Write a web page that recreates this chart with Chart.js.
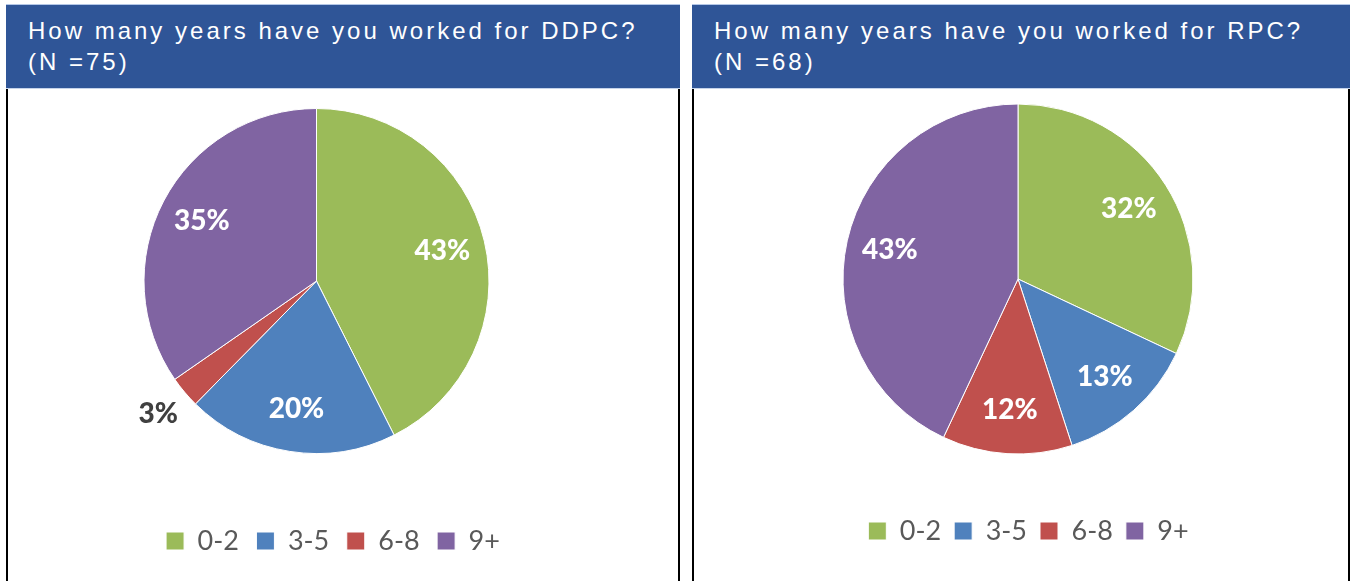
<!DOCTYPE html>
<html>
<head>
<meta charset="utf-8">
<script src="https://cdn.jsdelivr.net/npm/chart.js@4/dist/chart.umd.min.js"></script>
<style>
  html, body { margin: 0; padding: 0; background: #fff; }
  body { width: 1350px; height: 581px; position: relative; overflow: hidden; }
  .panel { position: absolute; top: 4px; height: 577px; background: #fff; }
  .header {
    position: absolute; left: 0; top: 0; right: 0; height: 85px;
    background: #2F5597; border-top: 1px solid #b4c7e7; box-sizing: border-box;
    border-bottom: 1px solid #c5d3ea;
    color: #fff; font-family: "Liberation Sans", Arial, sans-serif; font-size: 24px;
    letter-spacing: 3px; line-height: 30.5px; padding: 11px 0 0 22px; z-index: 2;
  }
  .lb { position: absolute; top: 85px; bottom: 0; width: 2px; background: #000; z-index: 2; }
  canvas { position: absolute; top: 0; z-index: 1; }
</style>
</head>
<body>
<div class="panel" id="p1" style="left:6px; width:674px;">
  <div class="header">How many years have you worked for DDPC?<br>(N =75)</div>
  <div class="lb" style="left:0"></div>
  <div class="lb" style="left:672px"></div>
  <canvas id="c1" width="670" height="577" style="left:2px"></canvas>
</div>
<div class="panel" id="p2" style="left:692px; width:658px;">
  <div class="header">How many years have you worked for RPC?<br>(N =68)</div>
  <div class="lb" style="left:0"></div>
  <div class="lb" style="left:656px"></div>
  <canvas id="c2" width="654" height="577" style="left:2px"></canvas>
</div>
<script>
// ---- data ----
const categories = ['0-2', '3-5', '6-8', '9+'];
const ddpcPercent = [43, 20, 3, 35];
const rpcPercent = [32, 13, 12, 43];
const sliceColors = ['#9BBB59', '#4F81BD', '#C0504D', '#8064A2'];

// place the pie square at a given centre / radius inside the canvas
const piePlacement = {
  id: 'piePlacement',
  afterLayout(chart, args, opts) {
    const a = chart.chartArea;
    a.left = opts.cx - opts.r - 0.5;
    a.right = opts.cx + opts.r + 0.5;
    a.top = opts.cy - opts.r - 0.5;
    a.bottom = opts.cy + opts.r + 0.5;
    a.width = a.right - a.left;
    a.height = a.bottom - a.top;
  }
};

const sliceLabels = {
  id: 'sliceLabels',
  afterDatasetsDraw(chart) {
    const ctx = chart.ctx;
    const meta = chart.getDatasetMeta(0);
    const values = chart.data.datasets[0].data;
    ctx.save();
    ctx.font = '900 28px Lato, "Open Sans", sans-serif';
    ctx.textAlign = 'center';
    ctx.textBaseline = 'middle';
    meta.data.forEach((arc, i) => {
      const p = arc.getProps(['x', 'y', 'startAngle', 'endAngle', 'outerRadius'], true);
      const mid = (p.startAngle + p.endAngle) / 2;
      const small = values[i] < 5;
      const dist = p.outerRadius * (small ? 1.2 : 0.75);
      ctx.fillStyle = small ? '#404040' : '#ffffff';
      ctx.fillText(values[i] + '%', p.x + Math.cos(mid) * dist, p.y + Math.sin(mid) * dist);
    });
    ctx.restore();
  }
};

function makePie(id, values, place, pad, legendPad) {
  return new Chart(document.getElementById(id), {
    type: 'pie',
    data: {
      labels: categories,
      datasets: [{
        data: values,
        backgroundColor: sliceColors,
        borderColor: '#ffffff',
        borderWidth: 1,
        hoverOffset: 0
      }]
    },
    options: {
      responsive: false,
      animation: false,
      events: [],
      layout: { padding: pad },
      plugins: {
        tooltip: { enabled: false },
        piePlacement: place,
        legend: {
          position: 'bottom',
          align: 'center',
          labels: {
            boxWidth: 18,
            boxHeight: 18,
            padding: legendPad,
            color: '#595959',
            font: { family: 'Lato, "Open Sans", sans-serif', size: 27 }
          }
        }
      }
    },
    plugins: [piePlacement, sliceLabels]
  });
}

makePie('c1', ddpcPercent, { cx: 308.5, cy: 277, r: 172.5 }, { left: 0, right: 20, top: 0, bottom: 16.5 }, 17.5);
makePie('c2', rpcPercent, { cx: 324, cy: 275, r: 175 }, { left: 15, right: 0, top: 0, bottom: 26.5 }, 13);
</script>
</body>
</html>
